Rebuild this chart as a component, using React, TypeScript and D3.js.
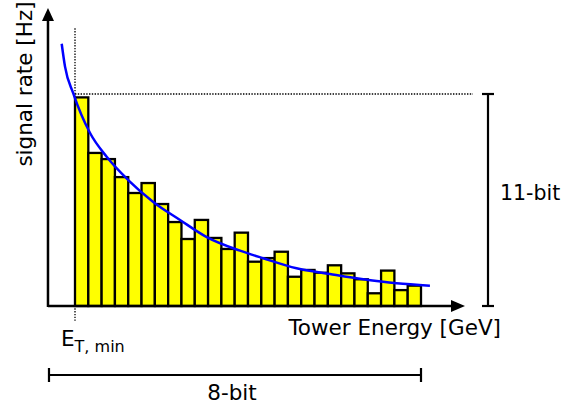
import { useEffect, useRef } from "react";
import * as d3 from "d3";

// bar heights per energy bin (rate units, 100 = 11-bit full scale)
const binRates = [
  98.4, 72.2, 69.3, 60.8, 53.3, 58.0, 48.1, 39.6, 31.6, 40.6, 32.1, 26.9, 34.6,
  20.9, 22.6, 25.6, 13.8, 17.0, 15.7, 19.2, 15.4, 12.6, 6.0, 16.7, 7.5, 9.6,
];

// fitted curve (bin units, rate units)
const fitX = [-1.0, -0.75, -0.13, 1.13, 2.38, 4.0, 5.88, 7.89, 9.9, 12.4, 14.15, 16.65, 19.16, 21.66, 24.17, 26.67];
const fitY = [123.7, 112.9, 100.3, 81.6, 70.4, 59.4, 49.1, 40.6, 32.5, 26.1, 22.5, 17.8, 15.1, 12.6, 10.7, 9.6];

const fullScale = 100; // 11-bit saturation level
const xLabel = "Tower Energy [GeV]";
const yLabel = "signal rate [Hz]";

const width = 579;
const height = 408;

const App = () => {
  const svgRef = useRef<SVGSVGElement>(null);

  useEffect(() => {
    if (!svgRef.current) return;
    const svg = d3.select(svgRef.current);
    svg.selectAll("*").remove();

    const nBins = binRates.length;
    const x = d3.scaleLinear().domain([0, nBins]).range([75, 421]);
    const y = d3.scaleLinear().domain([0, fullScale]).range([306, 94]);
    const font = "DejaVu Sans, sans-serif";
    const fs = 21.5;

    const x0 = x(-2.03);
    const yBase = y(0);

    // guide lines
    svg
      .append("line")
      .attr("x1", x(0))
      .attr("x2", x(0))
      .attr("y1", y(131))
      .attr("y2", y(-7))
      .attr("stroke", "#000")
      .attr("stroke-width", 1.3)
      .attr("stroke-dasharray", "1.4,1.4");
    svg
      .append("line")
      .attr("x1", x(0))
      .attr("x2", 473)
      .attr("y1", y(fullScale))
      .attr("y2", y(fullScale))
      .attr("stroke", "#000")
      .attr("stroke-width", 1.3)
      .attr("stroke-dasharray", "1.4,1.4");

    // histogram bars
    svg
      .selectAll("rect.bin")
      .data(binRates)
      .enter()
      .append("rect")
      .attr("class", "bin")
      .attr("x", (_, i) => x(i))
      .attr("y", (d) => y(d))
      .attr("width", x(1) - x(0))
      .attr("height", (d) => yBase - y(d))
      .attr("fill", "#ffff00")
      .attr("stroke", "#000")
      .attr("stroke-width", 2.3);

    // axes with arrows
    svg
      .append("line")
      .attr("x1", x0)
      .attr("x2", 455)
      .attr("y1", yBase)
      .attr("y2", yBase)
      .attr("stroke", "#000")
      .attr("stroke-width", 2.5);
    svg
      .append("path")
      .attr("d", `M465,${yBase} L451,${yBase - 6} L451,${yBase + 6} Z`)
      .attr("fill", "#000");
    svg
      .append("line")
      .attr("x1", x0)
      .attr("x2", x0)
      .attr("y1", yBase + 1)
      .attr("y2", 18)
      .attr("stroke", "#000")
      .attr("stroke-width", 2.5);
    svg
      .append("path")
      .attr("d", `M${x0},8 L${x0 - 6},21 L${x0 + 6},21 Z`)
      .attr("fill", "#000");

    // fit curve
    const line = d3
      .line<number>()
      .x((d) => x(d))
      .y((_, i) => y(fitY[i]))
      .curve(d3.curveMonotoneX);
    svg
      .append("path")
      .datum(fitX)
      .attr("d", line)
      .attr("fill", "none")
      .attr("stroke", "#0000ff")
      .attr("stroke-width", 2.5);

    // 11-bit bracket
    const bx = 488;
    const g = svg.append("g").attr("stroke", "#000").attr("stroke-width", 2.2);
    g.append("line").attr("x1", bx).attr("x2", bx).attr("y1", y(fullScale)).attr("y2", yBase);
    g.append("line").attr("x1", bx - 6).attr("x2", bx + 6).attr("y1", y(fullScale)).attr("y2", y(fullScale));
    g.append("line").attr("x1", bx - 6).attr("x2", bx + 6).attr("y1", yBase).attr("y2", yBase);

    // 8-bit bracket
    const by = 375;
    g.append("line").attr("x1", x0 + 1).attr("x2", x(nBins)).attr("y1", by).attr("y2", by);
    g.append("line").attr("x1", x0 + 1).attr("x2", x0 + 1).attr("y1", by - 7).attr("y2", by + 7);
    g.append("line").attr("x1", x(nBins)).attr("x2", x(nBins)).attr("y1", by - 7).attr("y2", by + 7);

    // labels
    svg
      .append("text")
      .attr("x", 501)
      .attr("y", 335)
      .attr("text-anchor", "end")
      .attr("font-family", font)
      .attr("font-size", fs)
      .text(xLabel);
    svg
      .append("text")
      .attr("transform", `translate(32,84) rotate(-90)`)
      .attr("text-anchor", "middle")
      .attr("font-family", font)
      .attr("font-size", fs)
      .text(yLabel);
    svg
      .append("text")
      .attr("x", 500)
      .attr("y", 200)
      .attr("font-family", font)
      .attr("font-size", fs - 1)
      .text("11-bit");
    svg
      .append("text")
      .attr("x", 232)
      .attr("y", 400)
      .attr("text-anchor", "middle")
      .attr("font-family", font)
      .attr("font-size", fs)
      .text("8-bit");
    const et = svg
      .append("text")
      .attr("x", 61)
      .attr("y", 346)
      .attr("font-family", font)
      .attr("font-size", fs);
    et.append("tspan").text("E");
    et.append("tspan").attr("dy", 6).attr("font-size", 16).text("T, min");
  }, []);

  return (
    <svg
      ref={svgRef}
      width={width}
      height={height}
      style={{ position: "absolute", left: 0, top: 0, background: "#fff" }}
    ></svg>
  );
};

export default App;
